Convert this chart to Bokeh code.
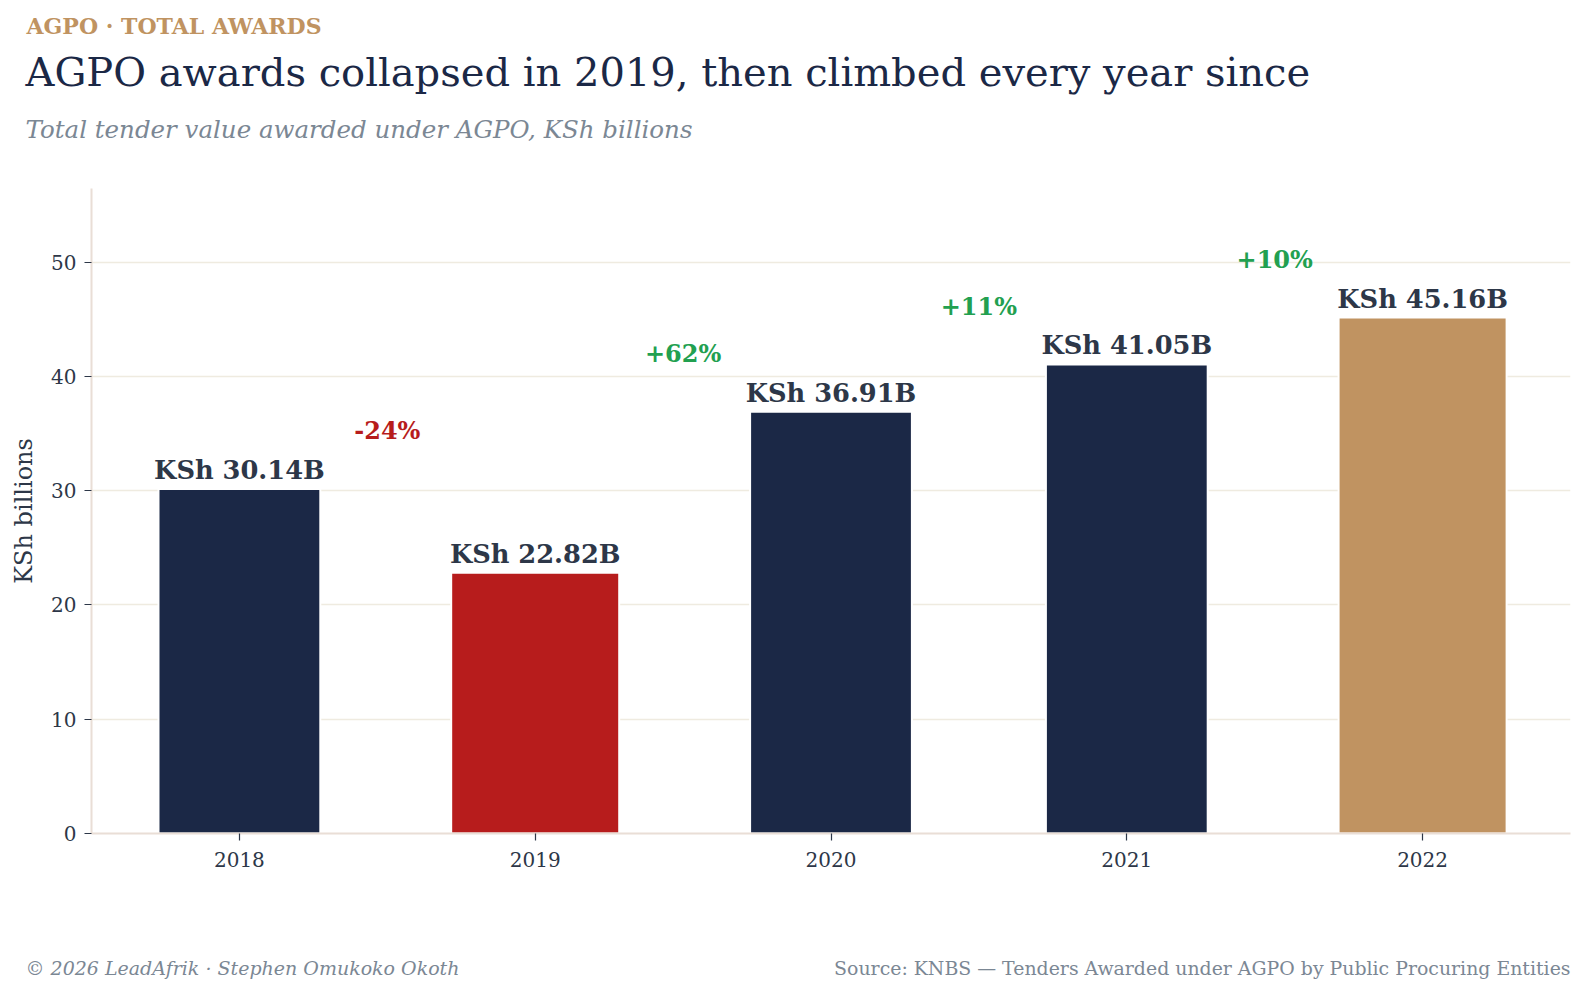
from bokeh.plotting import figure
from bokeh.models import ColumnDataSource, FactorRange, Range1d, Title
from bokeh.transform import dodge
from bokeh.core.properties import value
from bokeh.embed import file_html
from bokeh.resources import INLINE

years = ["2018", "2019", "2020", "2021", "2022"]
awards = [30.14, 22.82, 36.91, 41.05, 45.16]
bar_colors = ["#1b2846", "#b71c1c", "#1b2846", "#1b2846", "#c09361"]
bar_widths = [0.547, 0.568, 0.547, 0.547, 0.568]
value_labels = ["KSh 30.14B", "KSh 22.82B", "KSh 36.91B", "KSh 41.05B", "KSh 45.16B"]
change_years = ["2018", "2019", "2020", "2021"]
change_labels = ["-24%", "+62%", "+11%", "+10%"]
change_colors = ["#b71c1c", "#22a050", "#22a050", "#22a050"]
change_y = [max(a, b) + 5 for a, b in zip(awards[:-1], awards[1:])]

kicker = "AGPO · TOTAL AWARDS"
title = "AGPO awards collapsed in 2019, then climbed every year since"
subtitle = "Total tender value awarded under AGPO, KSh billions"
credit = "© 2026 LeadAfrik · Stephen Omukoko Okoth"
source = "Source: KNBS — Tenders Awarded under AGPO by Public Procuring Entities"

FONT = "DejaVu Serif"
DARK = "#2d3748"
GRAY = "#7b8794"
NAVY = "#1b2846"
TAN = "#c09361"

W, H = 1578, 986
LEFT, RIGHT, TOP, BOTTOM = 91, 8, 188, 153

p = figure(width=W, height=H, x_range=FactorRange(*years, range_padding=0),
           y_range=Range1d(0, max(awards) * 1.25),
           output_backend="svg", toolbar_location=None,
           min_border_left=LEFT, min_border_right=RIGHT,
           min_border_top=TOP, min_border_bottom=BOTTOM)
p.outline_line_color = None

src = ColumnDataSource(dict(x=years, top=awards, color=bar_colors, w=bar_widths, label=value_labels))
p.vbar(x="x", top="top", width="w", bottom=0, source=src, fill_color="color",
       line_color="white", line_width=2)
p.text(x="x", y="top", text="label", source=src, text_align="center", text_baseline="alphabetic",
       y_offset=-19, text_font=value(FONT), text_font_style="bold", text_font_size="25.7px",
       text_color=DARK)

csrc = ColumnDataSource(dict(x=change_years, y=change_y, label=change_labels, color=change_colors))
p.text(x=dodge("x", 0.5, range=p.x_range), y="y", text="label", source=csrc,
       text_align="center", text_baseline="middle", y_offset=-1, text_font=value(FONT),
       text_font_style="bold", text_font_size="24px", text_color="color")

p.xgrid.grid_line_color = None
p.ygrid.grid_line_color = "#efebe0"
p.ygrid.grid_line_width = 1.5
for ax in (p.xaxis, p.yaxis):
    ax.axis_line_color = "#e9ded6"
    ax.axis_line_width = 2
    ax.major_tick_line_color = DARK
    ax.major_tick_line_width = 1.2
    ax.major_tick_in = 0
    ax.major_tick_out = 7
    ax.minor_tick_line_color = None
    ax.major_label_text_font = FONT
    ax.major_label_text_font_size = "20px"
    ax.major_label_text_color = DARK
    ax.major_label_standoff = 8
p.xaxis.major_label_standoff = 11
p.yaxis.ticker = [0, 10, 20, 30, 40, 50]
p.yaxis.axis_label = "KSh billions"
p.yaxis.axis_label_text_font = FONT
p.yaxis.axis_label_text_font_size = "24px"
p.yaxis.axis_label_text_font_style = "normal"
p.yaxis.axis_label_text_color = DARK
p.yaxis.axis_label_standoff = 10


def ttl(text, size, color, style="normal", align="left", standoff=0, offset=0):
    t = Title(text=text, text_font=FONT, text_font_size=f"{size}px", text_color=color,
              text_font_style=style, align=align, vertical_align="middle", offset=offset)
    try:
        t.standoff = standoff
    except Exception:
        t.standoff = 0
    return t


# header stack (first added is nearest the frame)
p.add_layout(ttl(" ", 1, "white", standoff=29), "above")
p.add_layout(ttl(subtitle, 24.5, GRAY, "italic", standoff=24, offset=25 - LEFT), "above")
p.add_layout(ttl(title, 40, NAVY, standoff=11, offset=25 - LEFT), "above")
p.add_layout(ttl(kicker, 22, TAN, "bold", standoff=5, offset=26 - LEFT), "above")

# footer stack below the x axis
p.add_layout(ttl(" ", 1, "white", standoff=95), "below")
p.add_layout(ttl(credit, 19, GRAY, "italic", standoff=-24, offset=25 - LEFT), "below")
p.add_layout(ttl(source, 18.9, GRAY, "normal", align="right", standoff=-24, offset=0), "below")

open("out.html", "w").write(file_html(p, INLINE))
